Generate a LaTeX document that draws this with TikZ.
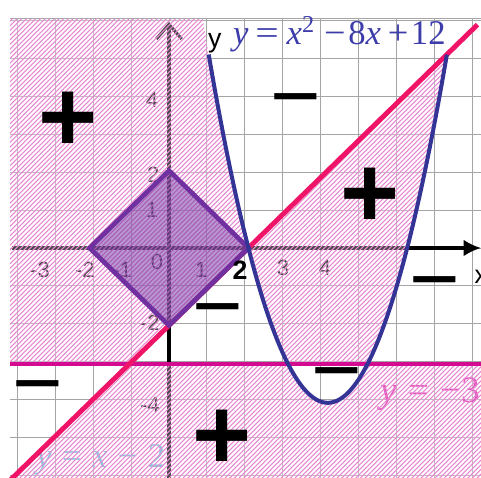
\documentclass[tikz,border=0pt]{standalone}
\usepackage{fontspec}
\usepackage{graphicx}
\setmainfont{Liberation Serif}
\newfontfamily\sansf{Liberation Sans}
\usetikzlibrary{arrows.meta}
\definecolor{gridc}{RGB}{165,165,165}
\definecolor{hatchc}{RGB}{233,135,210}
\definecolor{linec}{RGB}{240,20,105}
\definecolor{threec}{RGB}{212,10,145}
\definecolor{parac}{RGB}{52,52,150}
\definecolor{diac}{RGB}{112,48,160}
\definecolor{lblpara}{RGB}{60,60,170}
\definecolor{lblline}{RGB}{90,180,205}
\definecolor{lblthree}{RGB}{215,20,160}
\newcommand{\hatchit}[1]{%
  \begin{scope}
    \clip #1;
    \fill[white,opacity=0.3] (-4.3,-6) rectangle (7.9,6.5);
    \foreach \i in {0,...,208}
      \draw[hatchline] ([xshift=\i*3.5pt]-16.46,-5.95) -- ++(370pt,370pt);
  \end{scope}}
\begin{document}
\begin{tikzpicture}[x=29.775pt,y=29.025pt,
  gridline/.style={gridc,line width=0.7pt},
  hatchline/.style={hatchc,line width=0.8pt},
  ticklbl/.style={font=\sansf\fontsize{16.5}{16.5}\selectfont,text=black,inner sep=0pt},
  plussign/.style={font=\sansf\bfseries\fontsize{76}{76}\selectfont,inner sep=0pt},
  minussign/.style={font=\sansf\fontsize{65}{65}\selectfont,inner sep=0pt},
  ]
\useasboundingbox (-4.257,-5.943) rectangle (7.859,6.408);
% grid
\draw[gridline] (-4,-5.943) grid (7.859,5.92);
\draw[gridline] (-4,5.92) -- (7.859,5.92);
% axes
\draw[line width=2.3pt,-{Latex[length=13pt,width=12.5pt]}] (-3.95,0) -- (7.859,0);
\draw[line width=2.3pt,-{Straight Barb[length=11pt,width=19pt]}] (0,-5.943) -- (0,5.84);
% tick labels
\node[ticklbl] (ty4) at (-0.43,3.82) {4};
\node[ticklbl] (ty2) at (-0.40,1.90) {2};
\node[ticklbl] (ty1) at (-0.43,0.98) {1};
\node[ticklbl] (tx-3) at (-3.25,-0.57) {-3};
\node[ticklbl] (tx-2) at (-2.12,-0.57) {-2};
\node[ticklbl] (tx-1) at (-1.18,-0.57) {-1};
\node[ticklbl] (t0) at (-0.30,-0.36) {0};
\node[ticklbl] (tx1) at (0.81,-0.57) {1};
\node[ticklbl] (tx3) at (2.87,-0.52) {3};
\node[ticklbl] (tx4) at (3.93,-0.52) {4};
\node[ticklbl] (ty-2) at (-0.48,-1.94) {-2};
\node[ticklbl] (ty-4) at (-0.48,-4.06) {-4};
% faded curve labels
\node[anchor=base west,inner sep=0pt,text=lblline,font=\fontsize{26}{26}\selectfont] (lline) at (-3.35,-5.68)
  {\textit{y}\hspace{.3em}=\hspace{.3em}\textit{x}\hspace{.3em}−\hspace{.3em}2};
\node[anchor=base west,inner sep=0pt,text=lblthree,font=\fontsize{28}{28}\selectfont] (lthree) at (5.31,-4.0)
  {\textit{y}\hspace{.3em}=\hspace{.3em}−3};
% hatched regions
\hatchit{(-4,5.92) -- (0.854,5.92) -- plot[domain=0.854:2,samples=40] (\x,{\x*\x-8*\x+12}) -- (-1,-3) -- (-4,-3) -- cycle}
\hatchit{(2,0) -- (7,5) -- plot[domain=7:5,samples=40] (\x,{\x*\x-8*\x+12}) -- (3,-3) -- plot[domain=3:2,samples=20] (\x,{\x*\x-8*\x+12}) -- cycle}
\hatchit{(-1,-3) -- (3,-3) -- plot[domain=3:5,samples=40] (\x,{\x*\x-8*\x+12}) -- (7.9,-3) -- (7.9,-6) -- (-4,-6) -- cycle}
% curves
\draw[threec,line width=3pt] (-4,-3) -- (7.859,-3);
\draw[linec,line width=3.7pt] (-4.06,-6.06) -- (7.77,5.77);
\draw[diac,line width=3.5pt,fill=diac,fill opacity=0.5] (-2,0) -- (0,2) -- (2,0) -- (0,-2) -- cycle;
\draw[parac,line width=3pt] plot[domain=1:7,samples=120,smooth] (\x,{\x*\x-8*\x+12});
% top labels
\node[font=\sansf\bfseries\fontsize{20}{20}\selectfont,inner sep=0pt] (tx2) at (1.79,-0.57) {2};
\node[anchor=base west,inner sep=0pt,font=\sansf\fontsize{20}{20}\selectfont] (ylbl) at (0.98,5.19) {y};
\node[anchor=west,inner sep=0pt,font=\sansf\fontsize{19}{19}\selectfont] (xlbl) at (7.69,-0.75) {x};
\node[anchor=base west,inner sep=0pt,text=lblpara,font=\fontsize{26}{26}\selectfont] (plbl) at (1.61,5.25)
  {\textit{y}\hspace{5pt}\scalebox{1.2}[1]{=}\hspace{6pt}\textit{x}\textsuperscript{2}\hspace{7pt}\scalebox{1.1}[1]{−}\hspace{2pt}8\textit{x}\hspace{5pt}\scalebox{1.05}[1]{+}\hspace{2pt}12};
% signs
\node[plussign] (s1) at (-2.54,3.26) {+};
\node[plussign] (s2) at (5.06,1.29) {+};
\node[plussign] (s3) at (1.34,-4.96) {+};
\node[minussign] (m1) at (3.20,3.57) {−};
\node[minussign] (m2) at (6.70,-1.14) {−};
\node[minussign] (m3) at (1.23,-1.86) {−};
\node[minussign] (m4) at (4.23,-3.49) {−};
\node[minussign] (m5) at (-3.30,-3.85) {−};
\end{tikzpicture}
\end{document}
